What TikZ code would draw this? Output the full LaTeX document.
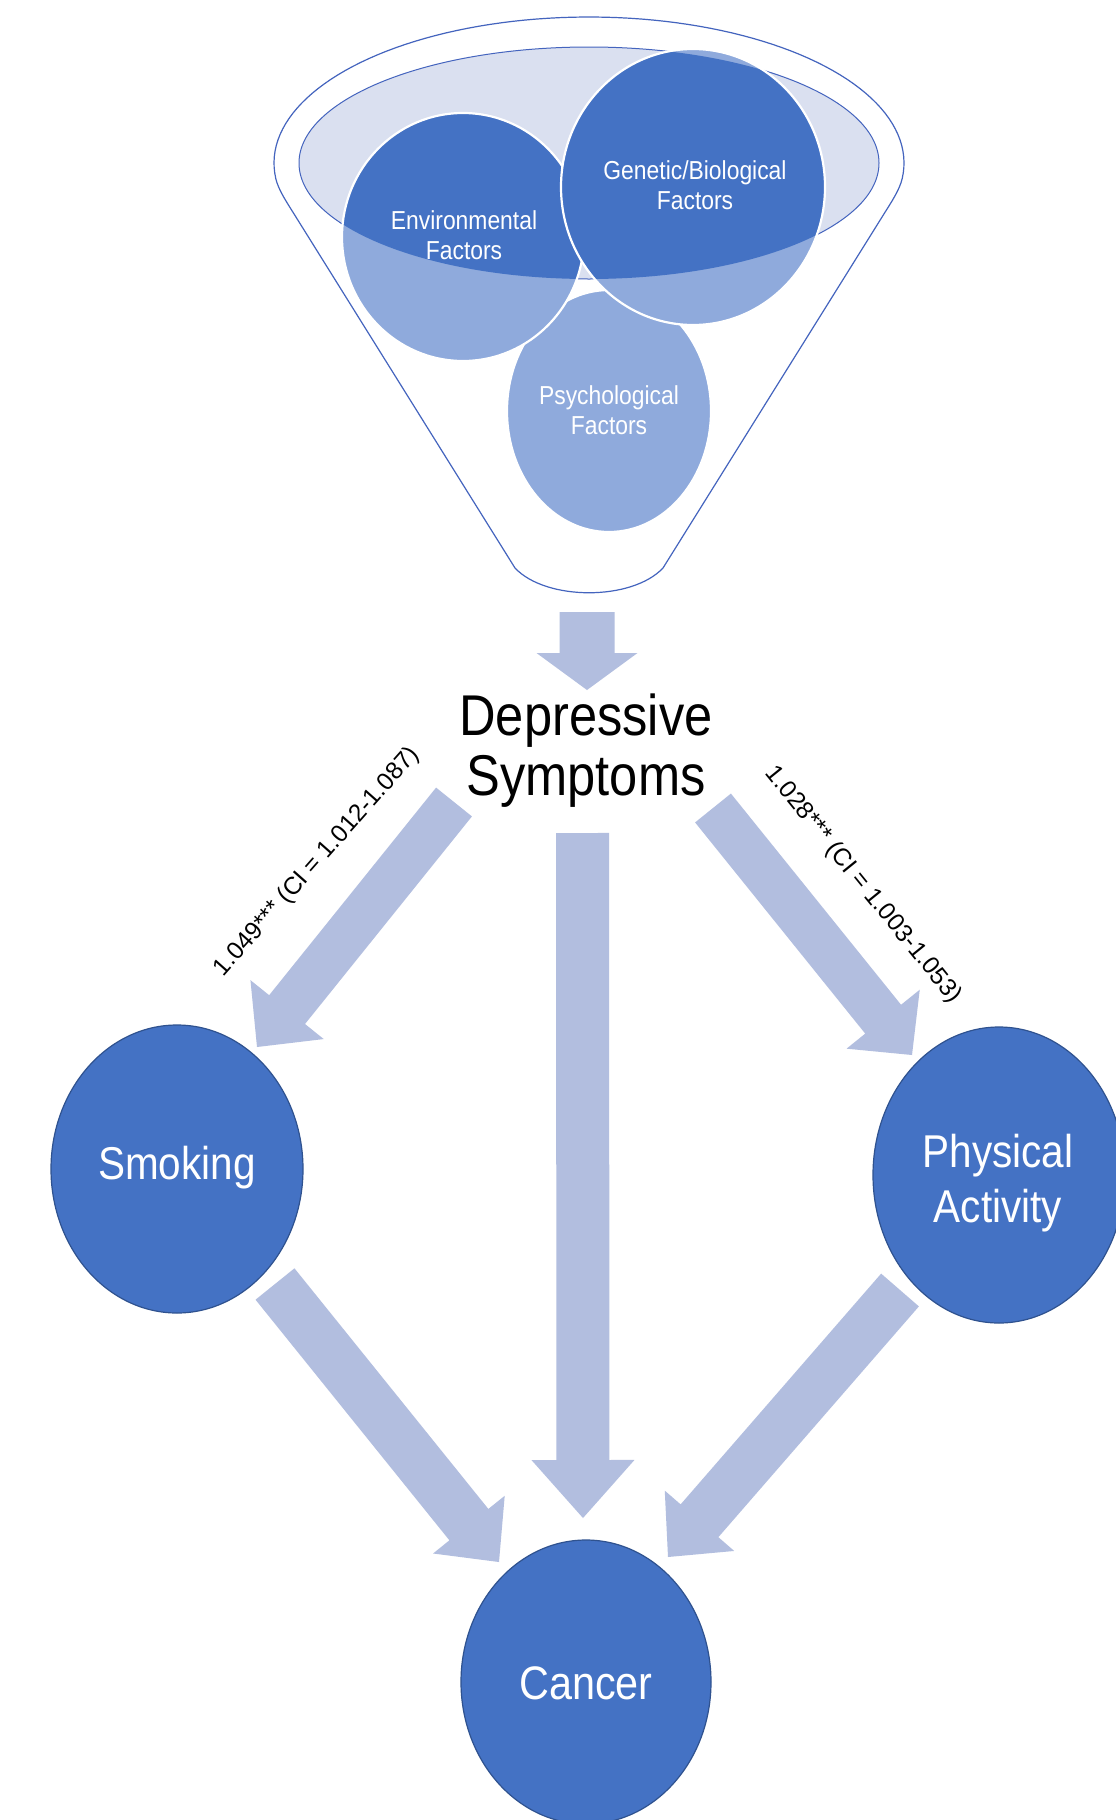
\documentclass[tikz,border=0pt]{standalone}
\usepackage{fontspec}
\setmainfont{Liberation Sans}
\newfontfamily\narrowsans{Liberation Sans}[FakeStretch=0.88]
\usetikzlibrary{calc,shapes.geometric}
\definecolor{dblue}{RGB}{68,114,196}
\definecolor{lblue}{RGB}{143,170,220}
\definecolor{funfill}{RGB}{218,224,240}
\definecolor{arrcol}{RGB}{178,190,223}
\definecolor{edgeblue}{RGB}{47,82,143}
\definecolor{linecol}{RGB}{68,100,190}
\newcommand{\fatarrow}[5]{%
  \coordinate (fa-c) at ($(#2)!#5!(#1)$);
  \fill[arrcol] ($(#1)!#3!90:(#2)$) -- ($(fa-c)!#3!90:(#2)$) -- ($(fa-c)!#4!90:(#2)$) -- (#2)
    -- ($(fa-c)!#4!-90:(#2)$) -- ($(fa-c)!#3!-90:(#2)$) -- ($(#1)!#3!-90:(#2)$) -- cycle;}
\newcommand{\funcircle}[4]{%
  \fill[lblue] (#1,#2) ellipse [x radius=#3, y radius=#4];
  \begin{scope}
    \clip (589,163) ellipse [x radius=290, y radius=116];
    \fill[dblue] (#1,#2) ellipse [x radius=#3, y radius=#4];
  \end{scope}
  \draw[white, line width=2.2pt] (#1,#2) ellipse [x radius=#3, y radius=#4];}
\tikzset{
  ftext/.style={text=white, align=center, inner sep=0pt, font=\narrowsans\fontsize{26}{30}\selectfont},
  bignode/.style={ellipse, fill=dblue, draw=edgeblue, line width=1.2pt, inner sep=0pt},
  bigtext/.style={text=white, align=center, inner sep=0pt, font=\narrowsans\fontsize{46}{55}\selectfont},
  cilabel/.style={inner sep=0pt, font=\fontsize{24.5}{28}\selectfont}
}
\begin{document}
\begin{tikzpicture}[x=1pt,y=-1pt]
\useasboundingbox (0,0) rectangle (1116,1820);
\fill[white] (0,0) rectangle (1116,1820);
% funnel
\draw[linecol, line width=1.2pt, line join=round] (515,568) -- (294.7,215)
  .. controls (286.8,202.3) and (278.4,190) .. (275.7,178.3)
  -- plot[domain=174:366, samples=90] ({589+315*cos(\x)},{163+146*sin(\x)})
  .. controls (899.6,190) and (891.2,202.3) .. (883.3,215)
  -- (663,568) .. controls (632,601) and (546,601) .. (515,568) -- cycle;
\filldraw[fill=funfill, draw=linecol, line width=1pt] (589,163) ellipse [x radius=290, y radius=116];
\funcircle{609}{411}{102}{121}
\funcircle{463}{237}{121}{124}
\funcircle{693}{187}{132}{138}
\node[ftext] (envt) at (464,235) {Environmental\\Factors};
\node[ftext] (gent) at (695,185) {Genetic/Biological\\Factors};
\node[ftext] (psyt) at (609,410) {Psychological\\Factors};
% central text
\node[align=center, inner sep=0pt, font=\narrowsans\fontsize{57.5}{60}\selectfont] (dep) at (586,751) {Depressive\\Symptoms};
% arrow end coordinates
\coordinate (funnelout) at (587,612);
\coordinate (depin) at (587,690);
\coordinate (depsmk) at (454,802);
\coordinate (smkin) at (257,1047);
\coordinate (deppa) at (713,808);
\coordinate (pain) at (912,1055);
\coordinate (depcan) at (582.5,833);
\coordinate (canin) at (583,1518);
\coordinate (smkout) at (275,1284);
\coordinate (canleft) at (499,1562);
\coordinate (paout) at (900,1290);
\coordinate (canright) at (668,1557);
\fatarrow{funnelout}{depin}{27.5pt}{50.5pt}{37pt}
\fatarrow{depsmk}{smkin}{23pt}{47pt}{48pt}
\fatarrow{deppa}{pain}{23pt}{47pt}{46pt}
\fatarrow{depcan}{canin}{26.5pt}{51.5pt}{58pt}
\fatarrow{smkout}{canleft}{25pt}{46pt}{48pt}
\fatarrow{paout}{canright}{25pt}{46pt}{48pt}
% labels
\node[cilabel, rotate=48.5] (lab1) at (317,862) {1.049*** (CI = 1.012-1.087)};
\node[cilabel, rotate=-51] (lab2) at (863,885) {1.028*** (CI = 1.003-1.053)};
% outcome nodes
\node[bignode, minimum width=252pt, minimum height=288pt] (smk) at (177,1169) {};
\node[bigtext] (smkt) at (177,1168) {Smoking};
\node[bignode, minimum width=252pt, minimum height=296pt] (pa) at (999,1175) {};
\node[bigtext] (pat) at (998,1183) {Physical\\Activity};
\node[bignode, minimum width=250pt, minimum height=284pt] (can) at (586,1682) {};
\node[bigtext, font=\narrowsans\fontsize{47}{55}\selectfont] (cant) at (586,1683) {Cancer};
\end{tikzpicture}
\end{document}
